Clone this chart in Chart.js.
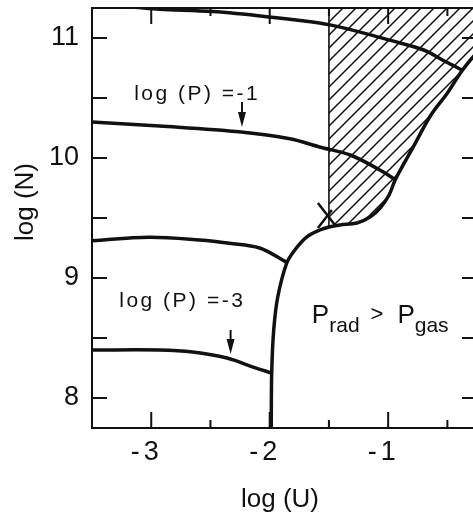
<!DOCTYPE html>
<html>
<head>
<meta charset="utf-8">
<script src="https://cdn.jsdelivr.net/npm/chart.js@4.4.1/dist/chart.umd.min.js"></script>
<style>
  html, body { margin: 0; padding: 0; background: #fff; overflow: hidden; }
  #wrap { width: 477px; height: 512px; position: relative; }
</style>
</head>
<body>
<div id="wrap"><canvas id="chartNU"></canvas></div>
<script>
// curves of log(N) vs log(U)
const topX = [-3.5, -3.2, -2.93, -2.48, -2.0, -1.58, -1.36, -0.98, -0.70, -0.51, -0.37];
const topY = [11.27, 11.26, 11.24, 11.22, 11.175, 11.125, 11.08, 10.98, 10.90, 10.80, 10.73];

// log(P) = -1
const p1X = [-3.5, -2.93, -2.24, -1.83, -1.58, -1.32, -1.07, -0.94];
const p1Y = [10.30, 10.267, 10.217, 10.16, 10.092, 10.025, 9.90, 9.82];

// log(P) = -2 (no label)
const p2X = [-3.5, -3.02, -2.59, -2.34, -2.085, -1.856];
const p2Y = [9.31, 9.34, 9.317, 9.29, 9.25, 9.13];

// log(P) = -3
const p3X = [-3.5, -2.93, -2.65, -2.36, -2.14, -1.983];
const p3Y = [8.40, 8.40, 8.383, 8.333, 8.258, 8.208];

// Prad = Pgas boundary
const bndX = [-1.987, -1.983, -1.966, -1.932, -1.856, -1.788, -1.686, -1.576, -1.5, -1.407, -1.263, -1.153, -1.068, -0.992, -0.941, -0.873, -0.788, -0.644, -0.5, -0.39, -0.305, -0.246];
const bndY = [7.75, 8.21, 8.567, 8.842, 9.125, 9.233, 9.342, 9.40, 9.425, 9.442, 9.458, 9.508, 9.583, 9.692, 9.817, 9.942, 10.092, 10.35, 10.542, 10.708, 10.817, 10.883];

// hatched zone starts at log(U) = -1.5
const edgeX = [-1.5, -1.5];
const edgeY = [9.425, 11.25];

// the small cross
const crossAX = [-1.593, -1.449];
const crossAY = [9.625, 9.442];
const crossBX = [-1.593, -1.475];
const crossBY = [9.417, 9.567];

const xTicks = [-3, -2, -1];
const xTickLabels = ['3', '2', '1'];
const xMinor = [-2.5, -1.5, -0.5];
const yTicks = [8, 9, 10, 11];
const yTickLabels = ['8', '9', '10', '11'];
const yMinor = [8.5, 9.5, 10.5];

const INK = '#111';
const FONT = '"Liberation Sans", Arial, sans-serif';

function pts(xs, ys){
    return xs.map((x, i) => ({x: x, y: ys[i]}));
}

function hatchPattern(){
    const s = 13;
    const c = document.createElement('canvas');
    c.width = s; c.height = s;
    const g = c.getContext('2d');
    g.strokeStyle = INK;
    g.lineWidth = 1.5;
    g.beginPath();
    g.moveTo(-1, s + 1); g.lineTo(s + 1, -1);
    g.moveTo(-2, 2); g.lineTo(2, -2);
    g.moveTo(s - 2, s + 2); g.lineTo(s + 2, s - 2);
    g.stroke();
    return g.createPattern(c, 'repeat');
}

function curve(xs, ys, w){
    return {
        data: pts(xs, ys),
        showLine: true,
        borderColor: INK,
        borderWidth: w,
        pointRadius: 0,
        tension: 0.35,
        fill: false
    };
}

const hatchIdx = bndX.map((x, i) => i).filter(i => bndX[i] >= -1.5);

const frame = {
    id: 'frame',
    afterDatasetsDraw(chart){
        const {ctx, chartArea: a, scales: {x, y}} = chart;
        ctx.save();
        ctx.strokeStyle = INK;
        ctx.fillStyle = INK;
        ctx.lineWidth = 2;
        ctx.strokeRect(a.left, a.top, a.right - a.left, a.bottom - a.top);

        // inward ticks on all four sides
        ctx.beginPath();
        xTicks.concat(xMinor).forEach(v => {
            const len = xTicks.includes(v) ? 16 : 8;
            const px = x.getPixelForValue(v);
            ctx.moveTo(px, a.bottom); ctx.lineTo(px, a.bottom - len);
            ctx.moveTo(px, a.top); ctx.lineTo(px, a.top + len);
        });
        yTicks.concat(yMinor).forEach(v => {
            const py = y.getPixelForValue(v);
            ctx.moveTo(a.left, py); ctx.lineTo(a.left + 15, py);
            ctx.moveTo(a.right, py); ctx.lineTo(a.right - 15, py);
        });
        ctx.stroke();

        // tick labels
        ctx.font = '27px ' + FONT;
        ctx.textBaseline = 'middle';
        xTicks.forEach((v, i) => {
            const px = x.getPixelForValue(v);
            ctx.textAlign = 'center';
            ctx.fillText(xTickLabels[i], px, a.bottom + 25);
            const w = ctx.measureText(xTickLabels[i]).width;
            ctx.textAlign = 'right';
            ctx.fillText('-', px - w / 2 - 4, a.bottom + 25);
        });
        ctx.textAlign = 'right';
        yTicks.forEach((v, i) => {
            ctx.fillText(yTickLabels[i], a.left - 13, y.getPixelForValue(v));
        });

        // axis titles
        ctx.font = '26px ' + FONT;
        ctx.textBaseline = 'alphabetic';
        ctx.textAlign = 'center';
        ctx.fillText('log (U)', 280, 507);
        ctx.save();
        ctx.translate(33, 202);
        ctx.rotate(-Math.PI / 2);
        ctx.fillText('log (N)', 0, 0);
        ctx.restore();

        // curve labels
        ctx.textAlign = 'left';
        ctx.font = '21px ' + FONT;
        ctx.letterSpacing = '2.5px';
        ctx.fillText('log (P) =-1', x.getPixelForValue(-3.144), y.getPixelForValue(10.483));
        ctx.fillText('log (P) =-3', x.getPixelForValue(-3.27), y.getPixelForValue(8.76));
        ctx.letterSpacing = '0px';

        // arrows
        [[-2.234, 10.467, 10.258], [-2.33, 8.567, 8.367]].forEach(([ax, y0, y1]) => {
            const px = x.getPixelForValue(ax);
            const t = y.getPixelForValue(y1);
            ctx.lineWidth = 2;
            ctx.beginPath();
            ctx.moveTo(px, y.getPixelForValue(y0)); ctx.lineTo(px, t - 8);
            ctx.stroke();
            ctx.beginPath();
            ctx.moveTo(px - 4, t - 15); ctx.lineTo(px + 4, t - 15); ctx.lineTo(px, t);
            ctx.closePath();
            ctx.fill();
        });

        // Prad > Pgas
        let px = x.getPixelForValue(-1.644);
        const base = y.getPixelForValue(8.625);
        const put = (txt, size, dy) => {
            ctx.font = size + 'px ' + FONT;
            ctx.fillText(txt, px, base + dy);
            px += ctx.measureText(txt).width;
        };
        put('P', 26, 0);
        put('rad', 21, 9);
        px += 11;
        put('>', 22, -2);
        px += 14;
        put('P', 26, 0);
        put('gas', 21, 9);
        ctx.restore();
    }
};

new Chart(document.getElementById('chartNU'), {
    type: 'scatter',
    data: {
        datasets: [
            {
                data: hatchIdx.map(i => ({x: bndX[i], y: bndY[i]})),
                showLine: true,
                borderWidth: 0,
                borderColor: 'rgba(0,0,0,0)',
                backgroundColor: hatchPattern(),
                pointRadius: 0,
                tension: 0.35,
                fill: 'end'
            },
            curve(edgeX, edgeY, 1.6),
            curve(topX, topY, 3.5),
            curve(p1X, p1Y, 3.5),
            curve(p2X, p2Y, 3.5),
            curve(p3X, p3Y, 3.5),
            curve(bndX, bndY, 3.5),
            curve(crossAX, crossAY, 2.5),
            curve(crossBX, crossBY, 2.5)
        ]
    },
    options: {
        responsive: true,
        maintainAspectRatio: false,
        animation: false,
        layout: { padding: { top: 8, left: 0, right: 0, bottom: 0 } },
        plugins: { legend: { display: false }, tooltip: { enabled: false } },
        scales: {
            x: {
                type: 'linear', min: -3.5, max: -0.25,
                ticks: { display: false }, grid: { display: false }, border: { display: false },
                afterFit(s){ s.height = 84; }
            },
            y: {
                type: 'linear', min: 7.75, max: 11.25,
                ticks: { display: false }, grid: { display: false }, border: { display: false },
                afterFit(s){ s.width = 92; }
            }
        }
    },
    plugins: [frame]
});
</script>
</body>
</html>
